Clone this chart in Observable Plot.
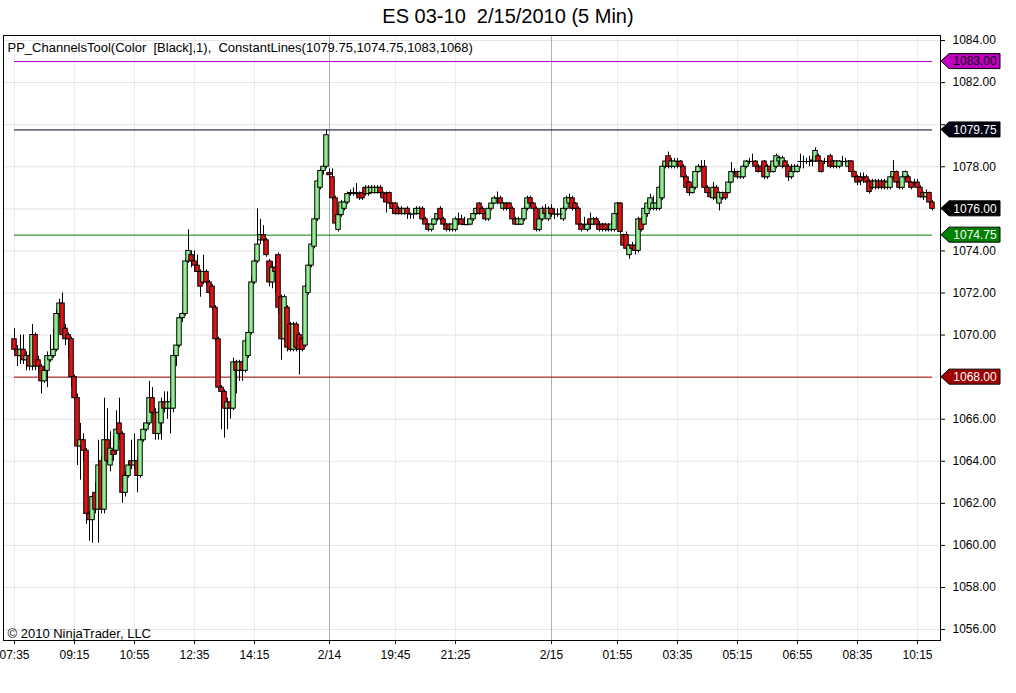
<!DOCTYPE html>
<html><head><meta charset="utf-8">
<script src="https://cdn.jsdelivr.net/npm/d3@7"></script>
<script src="https://cdn.jsdelivr.net/npm/@observablehq/plot@0.6"></script>
<style>
body{margin:0;background:#fff;font-family:"Liberation Sans",Arial,sans-serif;}
#title{width:1016px;height:35px;line-height:33px;text-align:center;font-size:20px;white-space:pre;color:#000;}
#chart svg{display:block;}
</style></head><body>
<div id="title">ES 03-10  2/15/2010 (5 Min)</div>
<div id="chart"></div>
<script>
// ---- data: 5-minute OHLC bars, in order ----
const open = [
1069.8,1069.3,1069.0,1069.3,1068.8,1069.0,1068.5,1070.0,1068.8,1068.5,1067.8,1068.3,1068.8,1069.0,1069.3,1071.0,1071.5,1070.3,1070.0,1069.8,1068.0,1067.0,
1064.7,1065.0,1064.5,1061.5,1061.2,1062.5,1061.7,1064.0,1061.7,1065.0,1063.8,1064.5,1064.5,1065.8,1065.3,1062.5,1063.3,1064.0,1063.8,1064.0,1063.3,1065.0,1065.5,1065.8,1067.0,1066.3,
1065.3,1065.8,1066.8,1066.5,1066.5,1066.5,1069.0,1069.5,1070.8,1071.0,1073.5,1073.8,1073.5,1073.3,1073.0,1072.5,1073.0,1072.5,1072.3,1071.3,1069.8,1067.5,1067.3,1066.5,1066.8,1066.5,
1068.7,1068.3,1068.7,1068.3,1069.0,1070.1,1072.5,1073.5,1074.5,1074.75,1074.5,1073.5,1072.5,1073.2,1073.8,1071.8,1069.8,1071.3,1070.5,1069.3,1070.5,1070.0,1069.8,1069.5,1072.0,1073.3,
1074.2,1075.5,1077.0,1077.8,1078.0,
1077.7,1077.5,1076.5,1075.0,1075.7,1076.0,1076.3,1076.7,1076.75,1076.75,1076.7,1076.75,1077.0,1076.7,1076.75,1076.75,1076.75,1077.0,1076.75,1076.7,
1076.75,1076.25,1076.25,1076.0,1076.0,1075.75,1076.0,1075.75,1075.75,1075.75,1075.75,1076.0,1075.5,1075.25,1075.0,1075.25,1075.5,1076.0,1075.5,1075.25,1075.25,1075.0,1075.0,1075.5,1075.5,1075.25,
1075.25,1075.25,1075.5,1075.75,1076.25,1076.0,1075.75,1075.5,1076.0,1076.25,1076.5,1076.5,1076.0,1076.25,1076.25,1076.0,1075.5,1075.25,1075.25,1075.5,1076.0,1076.5,1076.25,1076.0,1075.0,1075.5,1076.0,
1075.5,1076.0,1075.75,1075.75,1075.75,1075.5,1076.0,1076.25,1076.5,1076.25,1076.0,1075.25,1075.25,1075.0,1075.5,1075.25,1075.5,1075.25,1075.25,1075.25,1075.0,1075.0,1075.0,1075.75,1076.25,1074.75,
1074.75,1073.8,1074.25,1074.25,1074.0,1075.5,1075.25,1075.75,1076.0,1076.0,1076.0,1076.0,1076.5,1078.0,1078.5,1078.0,1078.0,1078.25,1078.25,1078.0,1077.5,1077.25,1076.75,1077.0,1077.75,
1078.0,1078.0,1077.0,1076.75,1076.5,1077.0,1076.25,1076.5,1076.75,1076.75,1077.25,1077.75,1077.75,1077.5,1077.5,1078.0,1078.25,1078.25,1078.25,1078.0,1078.0,1078.25,1077.5,1078.0,1077.75,1078.0,
1078.25,1078.0,1078.25,1078.0,1077.5,1077.75,1077.75,1078.25,1078.25,1078.25,1078.25,1078.25,1078.25,1078.5,1078.25,1078.25,1078.25,1078.5,1078.25,1078.0,1078.0,1078.25,1078.25,1078.0,1078.25,1077.75,1077.5,
1077.5,1077.5,1077.5,1077.3,1077.3,1077.0,1077.3,1077.3,1077.3,1077.0,1077.0,1077.5,1077.75,1077.25,1077.0,1077.5,1077.5,1077.25,1077.25,1077.25,1077.0,1076.75,1076.55,1076.75,1076.3
];
const high = [
1070.3,1069.5,1070.0,1070.0,1069.2,1069.2,1070.5,1070.1,1069.0,1068.6,1068.5,1069.2,1070.0,1070.3,1071.2,1071.7,1072.0,1070.5,1070.1,1069.9,1068.1,1067.2,
1065.8,1065.3,1064.6,1061.6,1062.4,1063.0,1065.0,1064.2,1067.0,1066.5,1065.4,1065.2,1066.4,1067.0,1065.4,1063.5,1064.0,1065.0,1065.3,1064.2,1065.2,1065.8,1066.0,1067.8,1067.5,1066.5,
1066.5,1067.0,1067.3,1067.3,1067.0,1069.3,1069.5,1070.9,1071.1,1073.6,1075.0,1074.0,1074.0,1073.8,1073.1,1073.8,1073.1,1072.6,1072.4,1071.4,1069.9,1067.6,1067.4,1067.0,1066.9,1068.9,
1068.8,1068.8,1068.8,1069.8,1070.2,1072.8,1073.6,1076.0,1075.5,1075.2,1074.6,1073.6,1073.5,1073.8,1073.9,1071.9,1071.9,1071.4,1070.6,1070.6,1070.6,1070.1,1069.9,1072.4,1073.4,1074.5,
1075.6,1077.4,1077.9,1078.1,1079.75,
1077.9,1077.9,1076.6,1075.8,1076.4,1076.4,1076.8,1076.9,1077.0,1077.2,1076.8,1076.8,1077.1,1077.1,1077.1,1077.1,1077.1,1077.1,1076.8,1076.8,
1076.8,1076.3,1076.3,1076.1,1076.1,1076.0,1076.1,1075.8,1076.0,1076.1,1076.1,1076.1,1075.6,1075.3,1075.3,1075.6,1075.8,1076.1,1075.6,1075.3,1075.3,1075.3,1075.6,1075.8,1075.7,1075.6,
1075.5,1075.6,1075.8,1076.1,1076.3,1076.1,1075.8,1076.1,1076.3,1076.6,1076.8,1076.6,1076.3,1076.3,1076.3,1076.1,1075.6,1075.6,1075.6,1076.1,1076.6,1076.6,1076.3,1076.1,1075.6,1076.1,1076.2,
1076.1,1076.2,1076.0,1076.0,1076.0,1076.1,1076.6,1076.7,1076.6,1076.3,1076.1,1075.3,1075.6,1075.4,1075.8,1075.6,1075.6,1075.4,1075.3,1075.3,1075.3,1075.4,1075.8,1076.3,1076.3,1074.8,
1074.9,1074.3,1074.4,1074.3,1075.6,1075.6,1076.1,1076.4,1076.7,1076.6,1076.4,1077.1,1078.1,1078.4,1078.7,1078.4,1078.4,1078.4,1078.3,1078.1,1077.6,1077.3,1077.1,1077.8,1078.1,
1078.3,1078.3,1077.1,1076.8,1077.25,1077.1,1076.8,1076.8,1076.8,1077.3,1078.2,1077.9,1077.8,1077.8,1078.1,1078.3,1078.4,1078.6,1078.3,1078.1,1078.1,1078.3,1078.1,1078.1,1078.3,1078.6,
1078.5,1078.5,1078.3,1078.1,1078.1,1078.1,1078.1,1078.6,1078.5,1078.4,1078.5,1078.5,1078.9,1078.6,1078.3,1078.4,1078.4,1078.6,1078.3,1078.3,1078.3,1078.5,1078.4,1078.3,1078.3,1077.8,1077.6,
1077.7,1077.7,1077.6,1077.4,1077.4,1077.4,1077.4,1077.4,1077.4,1077.3,1077.6,1078.3,1077.8,1077.3,1077.6,1077.8,1077.6,1077.3,1077.4,1077.4,1077.1,1076.8,1076.9,1076.8,1076.4
];
const low = [
1069.2,1068.5,1068.6,1068.6,1068.3,1068.3,1068.3,1068.3,1068.2,1067.2,1067.7,1067.5,1068.7,1068.9,1069.2,1070.8,1069.9,1069.5,1068.9,1067.5,1066.9,1063.8,
1063.1,1064.0,1061.0,1060.2,1060.1,1061.5,1060.1,1061.5,1061.5,1063.9,1063.5,1064.0,1064.3,1065.0,1062.0,1062.3,1063.2,1063.6,1063.6,1062.5,1063.2,1064.9,1065.4,1065.7,1066.2,1065.0,
1065.0,1065.0,1066.3,1066.0,1065.3,1066.3,1068.5,1069.4,1070.6,1070.9,1073.4,1073.2,1073.0,1073.0,1071.8,1072.4,1072.4,1071.9,1071.2,1069.7,1067.4,1065.5,1065.1,1065.5,1066.0,1066.4,
1067.2,1067.8,1067.8,1068.2,1068.9,1070.0,1072.4,1073.4,1074.3,1074.4,1073.7,1072.3,1072.2,1072.0,1071.0,1068.8,1069.7,1069.2,1069.2,1069.2,1069.2,1068.1,1069.2,1069.4,1071.9,1073.2,
1074.1,1075.4,1076.9,1077.6,1077.9,
1077.4,1076.4,1075.2,1074.9,1075.6,1075.9,1076.2,1076.6,1076.6,1076.6,1076.4,1076.4,1076.6,1076.6,1076.7,1076.7,1076.7,1076.6,1076.3,1075.8,
1076.2,1075.75,1075.7,1075.7,1075.7,1075.7,1075.5,1075.5,1075.5,1075.7,1075.7,1075.4,1075.2,1074.9,1074.9,1075.2,1075.4,1075.4,1075.2,1074.9,1074.9,1074.9,1074.9,1075.2,1075.2,1075.2,
1075.2,1075.2,1075.4,1075.7,1075.7,1075.7,1075.4,1075.4,1075.9,1076.2,1076.2,1076.2,1075.9,1075.9,1075.9,1075.4,1075.2,1075.2,1075.2,1075.4,1075.9,1076.1,1075.9,1074.9,1074.9,1075.4,1075.7,
1075.4,1075.6,1075.5,1075.6,1075.5,1075.4,1075.9,1076.2,1075.9,1075.9,1075.2,1074.9,1075.0,1074.9,1075.0,1075.2,1075.2,1074.9,1074.9,1074.9,1074.9,1074.9,1074.9,1075.7,1074.8,1074.2,
1074.0,1073.6,1074.0,1073.8,1073.9,1074.9,1075.2,1075.6,1075.9,1075.9,1075.9,1075.9,1076.4,1077.9,1077.9,1077.9,1077.9,1077.9,1077.9,1077.4,1076.9,1076.6,1076.7,1076.9,1077.7,
1077.9,1076.9,1076.7,1076.5,1076.4,1076.3,1075.9,1076.4,1076.4,1076.7,1077.2,1077.6,1077.4,1077.4,1077.4,1077.9,1078.1,1078.1,1077.9,1077.7,1077.7,1077.4,1077.4,1077.7,1077.7,1077.9,
1078.1,1077.9,1077.9,1077.3,1077.4,1077.7,1077.7,1077.9,1077.9,1078.1,1078.0,1078.0,1078.2,1078.2,1077.7,1078.1,1078.0,1077.9,1077.9,1077.9,1077.9,1078.0,1078.1,1077.9,1077.7,1077.4,1077.1,
1077.1,1077.2,1077.2,1076.7,1076.9,1076.9,1076.9,1076.9,1076.9,1076.9,1076.9,1077.4,1077.2,1076.9,1076.9,1077.4,1077.2,1076.9,1077.1,1077.0,1076.5,1076.4,1076.5,1076.2,1075.9
];
const close = [
1069.3,1069.0,1069.3,1068.8,1069.0,1068.5,1070.0,1068.5,1068.5,1067.8,1068.3,1069.0,1069.0,1069.3,1071.0,1071.5,1070.0,1069.8,1069.8,1068.0,1067.0,1064.7,
1065.0,1064.5,1061.5,1061.2,1062.3,1061.7,1063.8,1061.7,1065.0,1064.0,1064.6,1064.3,1065.5,1065.3,1062.5,1063.3,1063.8,1063.8,1064.0,1063.3,1065.0,1065.5,1065.8,1067.0,1066.3,1065.3,
1066.3,1066.8,1066.5,1066.8,1066.8,1069.0,1069.5,1070.8,1071.0,1073.5,1074.0,1073.5,1073.3,1073.0,1072.3,1073.0,1072.5,1072.0,1071.3,1069.8,1067.5,1067.3,1066.5,1066.8,1066.5,1068.7,
1068.3,1068.7,1068.3,1069.7,1070.1,1072.5,1073.5,1074.3,1074.75,1074.5,1073.8,1072.5,1073.2,1073.0,1071.3,1069.8,1071.8,1069.4,1069.3,1070.5,1069.4,1069.3,1069.3,1072.3,1073.3,1074.3,
1075.5,1077.3,1077.8,1078.0,1079.5,
1077.6,1076.5,1075.3,1075.7,1076.3,1076.3,1076.7,1076.75,1076.75,1076.7,1076.5,1076.5,1076.7,1077.0,1077.0,1077.0,1077.0,1076.75,1076.5,1076.3,
1076.25,1076.0,1075.75,1075.75,1075.75,1076.0,1075.75,1075.75,1075.75,1076.0,1076.0,1075.5,1075.25,1075.0,1075.25,1075.5,1075.75,1075.5,1075.25,1075.0,1075.0,1075.25,1075.5,1075.5,1075.25,1075.25,
1075.25,1075.5,1075.75,1076.0,1075.75,1075.75,1075.5,1076.0,1076.25,1076.5,1076.5,1076.25,1076.25,1076.0,1076.0,1075.5,1075.25,1075.5,1075.5,1076.0,1076.5,1076.25,1076.0,1075.0,1075.5,1076.0,1075.75,
1076.0,1075.75,1075.75,1075.75,1075.75,1076.0,1076.5,1076.5,1076.0,1076.0,1075.25,1075.0,1075.25,1075.25,1075.25,1075.5,1075.25,1075.0,1075.0,1075.0,1075.0,1075.25,1075.75,1076.25,1074.9,1074.25,
1074.1,1074.25,1074.1,1074.0,1075.5,1075.0,1076.0,1076.25,1076.5,1076.25,1076.25,1077.0,1078.0,1078.25,1078.0,1078.25,1078.25,1078.25,1078.0,1077.5,1077.0,1076.75,1077.0,1077.75,1078.0,
1078.0,1077.0,1076.75,1076.55,1077.0,1076.5,1076.75,1076.75,1076.5,1077.25,1077.75,1077.75,1077.5,1077.75,1078.0,1078.25,1078.25,1078.25,1078.0,1077.75,1077.75,1077.5,1078.0,1077.75,1078.25,1078.5,
1078.4,1078.4,1078.0,1077.5,1077.75,1078.0,1078.0,1078.25,1078.25,1078.25,1078.25,1078.3,1078.75,1078.25,1077.75,1078.25,1078.25,1078.0,1078.0,1078.25,1078.25,1078.25,1078.25,1078.25,1077.75,1077.5,1077.25,
1077.3,1077.5,1077.25,1076.8,1077.0,1077.3,1077.0,1077.0,1077.0,1077.25,1077.5,1077.75,1077.25,1077.0,1077.5,1077.75,1077.25,1077.0,1077.25,1077.0,1076.55,1076.55,1076.75,1076.3,1076.0
];

// time-axis labels and the bar each one sits on
const tickBars   = [0, 20, 40, 60, 80, 105, 127, 147, 179, 201, 221, 241, 261, 281, 301];
const tickLabels = ["07:35","09:15","10:55","12:35","14:15","2/14","19:45","21:25","2/15","01:55","03:35","05:15","06:55","08:35","10:15"];
const sessionStarts = [105, 179];

// price axis ticks (1080 and 1076 labels sit under the price flags)
const priceTicks = [1056,1058,1060,1062,1064,1066,1068,1070,1072,1074,1076,1078,1080,1082,1084];
const coveredTicks = [1080, 1076];

// ConstantLines indicator levels
const levels      = [1083, 1079.75, 1074.75, 1068];
const levelColors = ["#a800b8", "#000020", "#008000", "#a00000"];

// price flags on the right axis
const flagValues = [1083, 1079.75, 1076.00, 1074.75, 1068];
const flagFills  = ["#c000c0", "#000010", "#000000", "#008000", "#a00000"];
const flagText   = ["#000000", "#ffffff", "#ffffff", "#ffffff", "#ffffff"];

const indicatorLabel = "PP_ChannelsTool(Color  [Black],1),  ConstantLines(1079.75,1074.75,1083,1068)";
const copyright = "\u00a9 2010 NinjaTrader, LLC";

// ---- build ----
const bars = open.map((o, i) => ({i, o, h: high[i], l: low[i], c: close[i]}));
const bodies = bars.filter(d => d.o !== d.c);
const dojis = bars.filter(d => d.o === d.c);
const lastBar = bars.length - 1;
const UP = "#90ee90", DOWN = "#dc1414";

function flagMark(index, scales, values, dims) {
  const g = d3.create("svg:g");
  const x0 = dims.width - dims.marginRight;
  flagValues.forEach((v, k) => {
    const y = scales.y(v);
    g.append("path")
      .attr("d", `M${x0+1},${y} L${x0+9},${y-7.5} L${x0+60},${y-7.5} L${x0+60},${y+7.5} L${x0+9},${y+7.5} Z`)
      .attr("fill", flagFills[k]).attr("stroke", "#000").attr("stroke-width", 1);
    g.append("text")
      .attr("x", x0 + 35).attr("y", y).attr("dy", "0.36em")
      .attr("text-anchor", "middle").attr("fill", flagText[k])
      .attr("font-size", 12).attr("font-family", "Liberation Sans, Arial, sans-serif")
      .text(v.toFixed(2));
  });
  return g.node();
}

const levelMarks = levels.map((v, k) =>
  Plot.ruleY([v], {x1: () => 0, x2: () => lastBar, stroke: levelColors[k], strokeWidth: 1}));

const chart = Plot.plot({
  width: 1016, height: 658,
  marginTop: 0, marginLeft: 3, marginRight: 76, marginBottom: 53,
  x: {domain: [-3.67, 308.67]},
  y: {domain: [1055.48, 1084.24]},
  style: {fontFamily: "Liberation Sans, Arial, sans-serif", fontSize: "12px", color: "#000", background: "#fff", overflow: "visible"},
  marks: [
    Plot.ruleY(priceTicks, {stroke: "#e4e4e4"}),
    Plot.ruleX(tickBars, {stroke: "#ebebeb"}),
    Plot.ruleX(sessionStarts, {stroke: "#b0b0b0"}),
    ...levelMarks,
    Plot.ruleX(bars, {x: "i", y1: "l", y2: "h", stroke: "#000", strokeWidth: 1}),
    Plot.rect(bodies, {x1: d => d.i - 0.75, x2: d => d.i + 0.75, y1: "o", y2: "c",
      fill: d => d.c > d.o ? "up" : "down", stroke: "#000", strokeWidth: 1}),
    Plot.ruleY(dojis, {y: "o", x1: d => d.i - 0.8, x2: d => d.i + 0.8, stroke: "#000"}),
    Plot.frame({stroke: "#000"}),
    Plot.axisY(priceTicks, {anchor: "right", tickSize: 4, tickPadding: 8,
      tickFormat: d => coveredTicks.includes(d) ? "" : d.toFixed(2), label: null, fontSize: 12}),
    Plot.axisX(tickBars, {anchor: "bottom", tickSize: 4, tickPadding: 6, tickFormat: d => tickLabels[tickBars.indexOf(d)], label: null, fontSize: 12}),
    Plot.text([indicatorLabel], {text: d => d, frameAnchor: "top-left", dx: 4, dy: 12, textAnchor: "start", lineAnchor: "middle", fontSize: 13}),
    Plot.text([copyright], {text: d => d, frameAnchor: "bottom-left", dx: 4, dy: -7, textAnchor: "start", lineAnchor: "middle", fontSize: 13}),
    flagMark
  ],
  color: {domain: ["up", "down"], range: [UP, DOWN]}
});
document.getElementById("chart").appendChild(chart);
</script></body></html>
